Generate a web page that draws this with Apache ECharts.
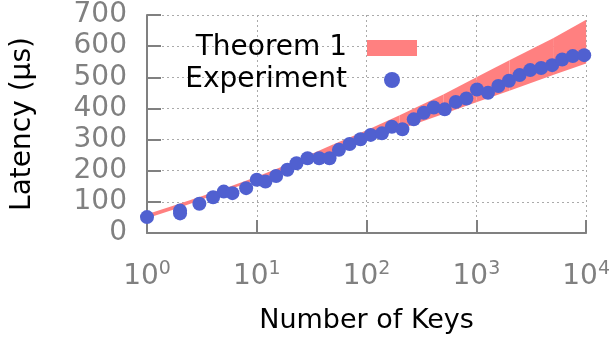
<!DOCTYPE html>
<html>
<head>
<meta charset="utf-8">
<script src="https://cdn.jsdelivr.net/npm/echarts@6/dist/echarts.min.js"></script>
<style>
  html, body { margin: 0; padding: 0; background: #fff; }
  #main { width: 613px; height: 339px; }
</style>
</head>
<body>
<div id="main"></div>
<script>
// Theorem 1 band, sampled at a few key counts
var bandKeys  = [1, 2, 5, 10, 20, 50, 100, 200, 500, 1000, 2000, 5000, 10000];
var bandLower = [47, 82, 133, 171, 208, 258, 295, 332, 382, 420, 457, 507, 544];
var bandUpper = [60, 95, 142, 181, 223, 285, 330, 378, 445, 500, 555, 625, 685];

// measured latency
var expKeys = [1, 2, 2, 3, 4, 5, 6, 8, 10, 12, 15, 19, 23, 29, 37, 46, 56, 70, 88, 109,
    138, 170, 212, 269, 332, 409, 515, 649, 811, 1013, 1276, 1585, 1980, 2477, 3093,
    3890, 4900, 6050, 7550, 9600];
var expLatency = [51, 63, 72, 94, 115, 133, 128, 144, 171, 165, 183, 203, 224, 240, 240,
    240, 267, 286, 301, 315, 320, 341, 333, 365, 386, 403, 397, 421, 432, 461, 450, 472,
    489, 507, 523, 530, 539, 557, 568, 571];

var FONT = 'DejaVu Sans';
var GREY = '#808080';
var BAND = '#ff8080';
var DOT = '#5060d0';

// one quad per band segment: [k0, lo0, up0, k1, lo1, up1]
var bandData = [];
for (var i = 0; i < bandKeys.length - 1; i++) {
    bandData.push([bandKeys[i], bandLower[i], bandUpper[i],
                   bandKeys[i + 1], bandLower[i + 1], bandUpper[i + 1]]);
}
var expData = expKeys.map(function (k, i) { return [k, expLatency[i]]; });

function renderBand(params, api) {
    var a = api.coord([api.value(0), api.value(1)]);
    var b = api.coord([api.value(3), api.value(4)]);
    var c = api.coord([api.value(3), api.value(5)]);
    var d = api.coord([api.value(0), api.value(2)]);
    return {
        type: 'polygon',
        shape: { points: [a, b, c, d] },
        style: { fill: BAND }
    };
}

var myChart = echarts.init(document.getElementById('main'));
myChart.setOption({
    animation: false,
    textStyle: { fontFamily: FONT },
    grid: { left: 147, right: 26, top: 15, bottom: 106 },
    legend: {
        data: [{ name: 'Theorem 1', icon: 'rect' }, { name: 'Experiment', icon: 'circle' }],
        orient: 'vertical',
        right: 196, top: 34, padding: 0,
        align: 'right',
        itemGap: 4,
        itemWidth: 50, itemHeight: 16,
        textStyle: { fontSize: 28, color: '#000', padding: [0, 15, 0, 0] }
    },
    xAxis: {
        type: 'log',
        logBase: 10,
        min: 1,
        max: 10000,
        name: 'Number of Keys',
        nameLocation: 'middle',
        nameGap: 74,
        nameTextStyle: { fontSize: 27, color: '#000' },
        axisLine: { lineStyle: { color: GREY, width: 2 } },
        axisTick: { inside: true, length: 13, lineStyle: { color: GREY, width: 2 } },
        splitLine: { show: true, lineStyle: { color: '#aaaaaa', type: [2, 3], width: 1 } },
        minorTick: { show: false },
        axisLabel: {
            margin: 27,
            color: GREY,
            formatter: function (value) {
                var e = Math.round(Math.log10(value));
                return '{b|10}{s|' + e + '}';
            },
            rich: {
                b: { fontSize: 28, color: GREY, fontFamily: FONT },
                s: { fontSize: 19, color: GREY, fontFamily: FONT, verticalAlign: 'top', padding: [0, 0, 14, 0] }
            }
        }
    },
    yAxis: {
        type: 'value',
        min: 0,
        max: 700,
        interval: 100,
        name: 'Latency (µs)',
        nameLocation: 'middle',
        nameGap: 110,
        nameTextStyle: { fontSize: 28, color: '#000' },
        axisLine: { show: true, lineStyle: { color: GREY, width: 2 } },
        axisTick: { show: true, inside: true, length: 14, lineStyle: { color: GREY, width: 2 } },
        splitLine: { show: true, lineStyle: { color: '#aaaaaa', type: [2, 3], width: 1 } },
        axisLabel: { fontSize: 28, color: GREY, margin: 20 }
    },
    series: [{
        name: 'Theorem 1',
        type: 'custom',
        renderItem: renderBand,
        itemStyle: { color: BAND },
        encode: { x: [0, 3], y: [1, 2, 4, 5] },
        data: bandData,
        silent: true
    }, {
        name: 'Experiment',
        type: 'scatter',
        symbolSize: 14,
        itemStyle: { color: DOT, opacity: 1 },
        data: expData,
        z: 5
    }]
});
</script>
</body>
</html>
